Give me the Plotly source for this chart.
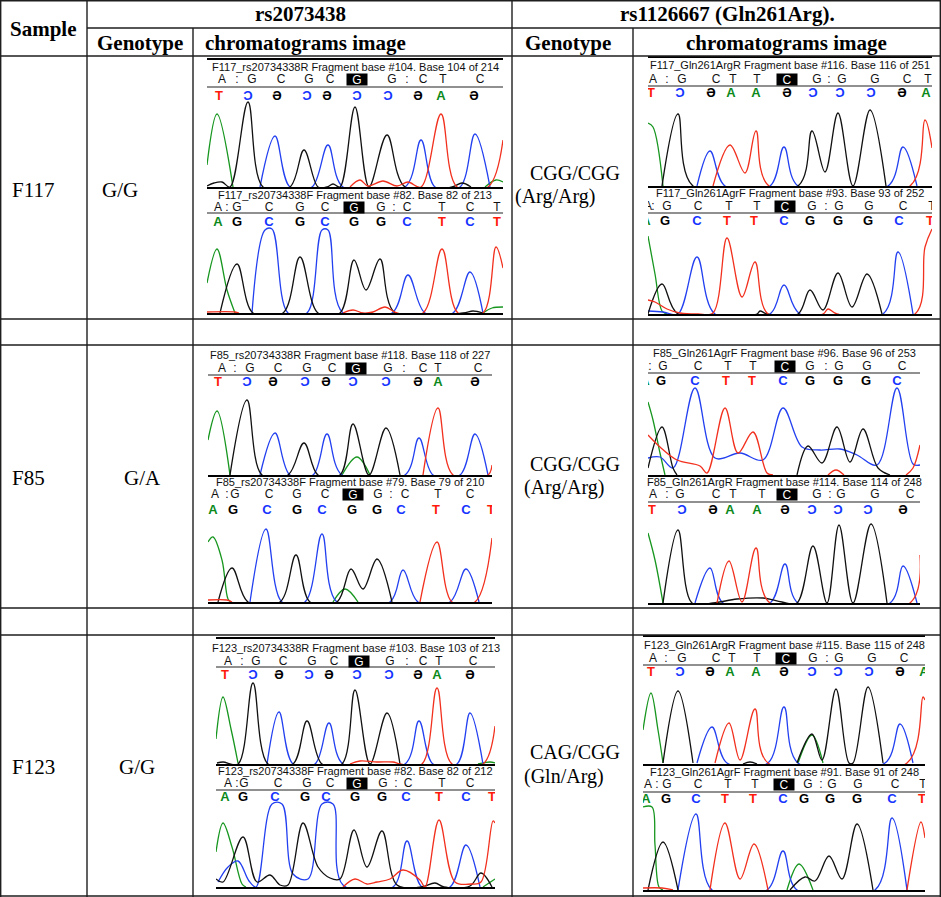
import plotly.graph_objects as go

W_PX, H_PX = 941, 897

# ---------------- table content ----------------
SAMPLES = ["F117", "F85", "F123"]
RS_GENOTYPE = ["G/G", "G/A", "G/G"]
GLN_CODON = ["CGG/CGG", "CGG/CGG", "CAG/CGG"]
GLN_AMINO = ["(Arg/Arg)", "(Arg/Arg)", "(Gln/Arg)"]

# ---------------- chromatogram data ----------------
# each channel: list of segments, each segment a list of (scan, signal) points
F117_RS_R = {
    "A": [[(0, 22), (10, 73), (26, 0)], [(278, 0), (289, 7), (296, 5)]],
    "C": [[(53, 0), (68, 51), (83, 0), (105, 0), (121, 42), (136, 0), (198, 0), (214, 47), (228, 0),
           (253, 0), (268, 53), (283, 0)]],
    "G": [[(0, 1), (7, 4), (15, 5), (23, 0), (41, 85), (56, 0), (83, 0), (97, 37), (111, 0), (120, 0),
           (126, 3), (133, 0), (148, 80), (162, 0), (180, 52), (198, 0), (245, 0), (255, 4), (264, 0)]],
    "T": [[(143, 0), (153, 7), (161, 1), (176, 6), (190, 1), (201, 5), (214, 0), (234, 73), (250, 0),
           (281, 0), (296, 47)]],
}
F117_RS_F = {
    "A": [[(0, 30), (10, 64), (20, 23), (28, 0)], [(276, 0), (285, 5), (296, 6)]],
    "C": [[(45, 0), (58, 83), (65, 84), (81, 0), (100, 0), (115, 83), (121, 83), (136, 0), (185, 0),
           (201, 38), (218, 0), (246, 0), (263, 41), (276, 0)]],
    "G": [[(13, 0), (30, 49), (46, 0), (76, 0), (93, 56), (111, 0), (133, 0), (147, 53), (159, 23),
           (173, 54), (188, 0), (256, 0), (266, 2), (276, 0)]],
    "T": [[(0, 1), (28, 1), (32, 0)], [(136, 0), (146, 3), (156, 0), (166, 1), (178, 6), (190, 0),
                                        (216, 0), (235, 64), (251, 0), (276, 0), (289, 66), (296, 45)]],
}
F117_GLN_R = {
    "A": [[(0, 63), (5, 59), (15, 0)]],
    "C": [[(49, 0), (62, 35), (77, 0), (122, 0), (136, 39), (150, 0), (240, 0), (255, 39), (269, 0)]],
    "G": [[(14, 0), (30, 72), (45, 0), (150, 0), (164, 55), (177, 14), (190, 73), (205, 0), (222, 76),
           (238, 0)]],
    "T": [[(65, 0), (82, 41), (97, 13), (108, 55), (121, 0), (262, 0), (277, 66), (284, 38)]],
}
F117_GLN_F = {
    "A": [[(0, 78), (7, 40), (14, 3), (19, 0)]],
    "C": [[(0, 3), (15, 2), (30, 0), (49, 57), (67, 0), (122, 0), (136, 29), (152, 0), (235, 0),
           (250, 62), (265, 0)]],
    "G": [[(0, 0), (14, 30), (30, 0), (109, 0), (112, 3), (119, 0), (150, 0), (162, 24), (175, 4),
           (190, 41), (204, 7), (219, 40), (234, 0)]],
    "T": [[(0, 14), (7, 12), (19, 5), (32, 1), (50, 0), (65, 1), (79, 76), (94, 17), (107, 52), (120, 0),
           (175, 0), (180, 5), (189, 0), (267, 0), (277, 67), (284, 85)]],
}
F85_RS_R = {
    "A": [[(0, 35), (9, 64), (22, 0)], [(134, 0), (149, 18), (162, 0)]],
    "C": [[(52, 0), (67, 42), (82, 0), (105, 0), (119, 41), (134, 0), (197, 0), (211, 37), (225, 0),
           (252, 0), (267, 41), (280, 0)]],
    "G": [[(22, 0), (39, 75), (54, 0), (80, 0), (96, 32), (110, 0), (132, 0), (145, 51), (161, 0),
           (178, 47), (192, 0)]],
    "T": [[(215, 0), (230, 67), (245, 0), (280, 0), (284, 10)]],
}
F85_RS_F = {
    "A": [[(0, 60), (5, 65), (14, 42), (20, 3), (23, 0)], [(125, 0), (137, 13), (150, 0)]],
    "C": [[(42, 0), (58, 73), (74, 0), (97, 0), (114, 68), (129, 0), (182, 0), (195, 32), (210, 0),
           (242, 0), (258, 33), (271, 0)]],
    "G": [[(10, 0), (24, 34), (40, 0), (72, 0), (88, 47), (102, 0), (129, 0), (143, 33), (155, 13),
           (169, 43), (184, 0)]],
    "T": [[(0, 2), (19, 2), (24, 0)], [(212, 0), (229, 60), (244, 0), (267, 0), (284, 64)]],
}
F85_GLN_F = {
    "A": [[(0, 73), (5, 55), (12, 22), (17, 0)]],
    "C": [[(0, 17), (12, 18), (25, 7), (47, 87), (67, 17), (92, 22), (115, 15), (135, 67), (154, 28),
           (172, 25), (192, 26), (209, 20), (229, 10), (249, 87), (265, 11), (272, 10)]],
    "G": [[(0, 7), (14, 48), (25, 7), (29, 0)], [(149, 0), (160, 29), (174, 12), (189, 48), (202, 13),
                                                  (215, 46), (230, 7), (242, 0)]],
    "T": [[(0, 40), (12, 28), (29, 15), (52, 9), (59, 2), (77, 67), (90, 22), (105, 43), (119, 2),
           (125, 0)], [(180, 0), (188, 5), (196, 0)], [(258, 0), (265, 7), (272, 30)]],
}
F85_GLN_R = {
    "A": [[(0, 70), (7, 43), (15, 0)]],
    "C": [[(47, 0), (62, 35), (75, 0), (122, 0), (137, 39), (150, 0), (242, 0), (255, 37), (269, 0)]],
    "G": [[(15, 0), (30, 73), (44, 0), (65, 0), (89, 4), (115, 5), (134, 1), (149, 0), (165, 57),
           (179, 0), (191, 78), (205, 0), (223, 79), (239, 0)]],
    "T": [[(69, 0), (81, 42), (94, 1), (108, 55), (122, 0), (262, 0), (272, 48)]],
}
F123_RS_R = {
    "A": [[(0, 25), (7, 67), (15, 35), (22, 1)], [(262, 0), (274, 2), (279, 1)]],
    "C": [[(51, 0), (63, 52), (77, 0), (99, 0), (113, 41), (127, 0), (189, 0), (203, 43), (217, 0),
           (241, 0), (254, 51), (267, 0)]],
    "G": [[(1, 1), (7, 2), (22, 0), (37, 81), (52, 0), (77, 0), (91, 43), (106, 0), (126, 0), (139, 74),
           (154, 0), (171, 51), (184, 0)]],
    "T": [[(134, 0), (144, 3), (161, 2), (177, 2), (184, 0), (206, 0), (221, 76), (236, 0), (267, 0),
           (279, 38)]],
}
F123_RS_F = {
    "A": [[(0, 35), (7, 64), (16, 40), (26, 3), (30, 0)], [(267, 0), (279, 8)]],
    "C": [[(2, 5), (12, 20), (22, 26), (33, 6), (40, 0), (56, 83), (66, 83), (77, 13), (92, 8),
           (106, 83), (117, 83), (127, 2), (177, 0), (191, 46), (206, 0), (234, 0), (250, 42), (264, 0)]],
    "G": [[(0, 8), (7, 5), (27, 50), (41, 5), (54, 12), (64, 2), (72, 2), (87, 64), (102, 20), (114, 9),
           (124, 8), (138, 57), (151, 20), (166, 56), (181, 2), (205, 0), (219, 4), (228, 0), (254, 1),
           (265, 14), (276, 0)]],
    "T": [[(127, 0), (139, 8), (151, 3), (161, 5), (174, 8), (187, 17), (204, 7), (209, 0), (223, 67),
           (239, 5), (255, 3), (265, 5), (277, 66), (279, 64)]],
}
F123_GLN_R = {
    "A": [[(0, 34), (8, 71), (15, 34), (20, 1)], [(155, 1), (169, 29), (180, 1)]],
    "C": [[(54, 1), (69, 37), (84, 1), (125, 1), (141, 57), (155, 1), (242, 1), (257, 40), (270, 1)]],
    "G": [[(20, 1), (35, 73), (50, 1)], [(100, 0), (107, 2), (114, 0)],
          [(154, 1), (169, 30), (179, 4), (193, 75), (206, 1), (210, 1), (225, 77), (240, 1)]],
    "T": [[(72, 1), (86, 41), (97, 4), (112, 55), (125, 1), (264, 1), (280, 67), (282, 64)]],
}
F123_GLN_F = {
    "A": [[(0, 83), (9, 83), (12, 45), (16, 3), (20, 0)], [(144, 0), (156, 26), (170, 0)]],
    "C": [[(35, 0), (53, 76), (69, 0), (124, 0), (140, 39), (154, 0), (232, 0), (249, 72), (264, 0)]],
    "G": [[(5, 0), (20, 48), (35, 0)], [(147, 0), (162, 13), (172, 9), (186, 34), (199, 11), (214, 66),
                                         (230, 0)]],
    "T": [[(0, 2), (19, 2), (30, 0)], [(67, 0), (82, 67), (97, 11), (111, 46), (125, 0)],
          [(264, 0), (278, 68), (282, 52)]],
}

# read names
TITLES = [
    "F117_rs20734338R Fragment base #104. Base 104 of 214",
    "F117_rs20734338F Fragment base #82. Base 82 of 213",
    "F117_Gln261ArgR Fragment base #116. Base 116 of 251",
    "F117_Gln261AgrF Fragment base #93. Base 93 of 252",
    "F85_rs20734338R Fragment base #118. Base 118 of 227",
    "F85_rs20734338F Fragment base #79. Base 79 of 210",
    "F85_Gln261AgrF Fragment base #96. Base 96 of 253",
    "F85_Gln261ArgR Fragment base #114. Base 114 of 248",
    "F123_rs20734338R Fragment base #103. Base 103 of 213",
    "F123_rs20734338F Fragment base #82. Base 82 of 212",
    "F123_Gln261ArgR Fragment base #115. Base 115 of 248",
    "F123_Gln261AgrF Fragment base #91. Base 91 of 248",
]

# reference base calls (black row) and their scan positions; 7th call is the SNP
CALLS = ["A:GCGCGG:CTC", "A:GCGCGG:CTCT", "A:GCTTCG:GGCT", "A:GCTTCG:GGCT",
         "A:GCGCGG:CTC", "A:GCGCGG:CTC", "A:GCTTCG:GGC", "A:GCTTCG:GGC",
         "A:GCGCGG:CTC", "A:GCGCGG:CTC", "A:GCTTCG:GGC", "A:GCTTCG:GGCT"]
CALL_POS = [
    [15, 30, 45, 74, 102, 123, 150, 185, 200, 216, 236, 273],
    [11, 20, 30, 62, 93, 118, 147, 174, 187, 200, 235, 263, 290],
    [5, 19, 34, 68, 85, 109, 139, 169, 181, 194, 227, 259, 280],
    [0, 5, 19, 50, 81, 109, 137, 164, 178, 191, 221, 255, 284],
    [14, 27, 42, 70, 99, 124, 148, 180, 196, 215, 230, 270],
    [7, 19, 27, 61, 89, 117, 145, 170, 183, 197, 230, 262],
    [-4, 2, 15, 50, 80, 105, 137, 162, 178, 191, 219, 254],
    [5, 19, 32, 68, 85, 114, 139, 169, 182, 193, 227, 262],
    [12, 26, 40, 67, 96, 118, 143, 174, 191, 207, 223, 257],
    [12, 21, 28, 62, 91, 114, 141, 167, 180, 192, 226, 254],
    [10, 23, 39, 73, 89, 114, 143, 170, 184, 196, 229, 261],
    [5, 14, 24, 55, 85, 112, 141, 165, 178, 189, 215, 252, 280],
]
# sample base calls (coloured row)
BASES = ["TCGCGCCGAG", "AGCGCGGCTCT", "TCGAAGCCCGA", "AGCTTCGGGCT",
         "TCGCGCCGAG", "AGCGCGGCTCT", "AGCTTCGGGC", "TCGAAGCCCG",
         "TCGCGCCGAG", "AGCGCGGCTCT", "TCGAAGCCCGA", "AGCTTCGGGCT"]
BASE_POS = [
    [12, 41, 70, 100, 120, 150, 181, 211, 234, 267],
    [11, 30, 62, 93, 118, 147, 174, 200, 235, 263, 290],
    [3, 32, 63, 83, 108, 139, 165, 192, 223, 254, 278],
    [-2, 17, 49, 79, 106, 136, 162, 190, 220, 251, 282],
    [10, 39, 65, 97, 118, 145, 178, 210, 230, 267],
    [5, 25, 59, 89, 114, 144, 169, 193, 228, 258, 283],
    [-3, 13, 47, 78, 104, 135, 162, 190, 218, 249],
    [4, 34, 65, 82, 109, 137, 164, 190, 220, 255],
    [9, 37, 63, 93, 113, 141, 173, 202, 221, 254],
    [9, 27, 59, 89, 110, 139, 166, 190, 223, 250, 276],
    [8, 37, 67, 87, 113, 141, 169, 195, 226, 257, 281],
    [3, 23, 53, 82, 110, 140, 161, 187, 214, 249, 279],
]
TRACES = [F117_RS_R, F117_RS_F, F117_GLN_R, F117_GLN_F, F85_RS_R, F85_RS_F,
          F85_GLN_F, F85_GLN_R, F123_RS_R, F123_RS_F, F123_GLN_R, F123_GLN_F]
REVERSE = [True, False, True, False, True, False, False, True, True, False, True, False]

# ---------------- layout (pixel geometry) ----------------
# x0, x1, top, baseline, title, calls, underline, coloured row, top rule
PANEL_BOX = [
    (207, 503, 60, 187, 120, 107, 100, 90, True),
    (207, 503, 188, 313, 118, 105, 100, 90, False),
    (648, 932, 58, 186, 121, 106, 100, 92, True),
    (648, 932, 187, 314, 121, 107, 101, 92, False),
    (208, 492, 347, 475, 120, 106, 100, 92, False),
    (208, 492, 476, 602, 120, 107, None, 91, False),
    (648, 920, 345, 475, 122, 108, 102, 93, False),
    (648, 920, 476, 603, 121, 108, 101, 92, False),
    (216, 495, 639, 764, 116, 102, 97, 88, True),
    (216, 495, 765, 887, 116, 103, 97, 89, False),
    (643, 925, 637, 764, 119, 105, 99, 91, True),
    (643, 925, 765, 890, 118, 105, 98, 90, False),
]

TRACE_COLOR = {"A": "#17961f", "C": "#2340f0", "G": "#111111", "T": "#f2301e"}
LETTER_COLOR = {"A": "#0b8a1a", "C": "#1534ff", "G": "#000000", "T": "#ff1a0a"}
MIRROR = {"C": "Ɔ", "G": "Ə"}

SERIF = "Liberation Serif, Times New Roman, serif"
SANS = "Liberation Sans, Arial, sans-serif"
BOLD_CALLS = "Liberation Sans, DejaVu Sans, sans-serif"


def px(xp):
    return xp / W_PX


def py(yp):
    return 1 - yp / H_PX


fig = go.Figure()
layout = {}
annotations = []
shapes = []

for i, box in enumerate(PANEL_BOX):
    x0, x1, top, base, t_h, c_h, u_h, b_h, top_rule = box
    n = i + 1
    xa, ya = ("x", "y") if n == 1 else (f"x{n}", f"y{n}")
    xk, yk = ("xaxis", "yaxis") if n == 1 else (f"xaxis{n}", f"yaxis{n}")
    width, height = x1 - x0, base - top
    layout[xk] = dict(domain=[px(x0), px(x1)], range=[0, width], anchor=ya, showline=True,
                      linewidth=2.4, linecolor="black", mirror=top_rule, showgrid=False,
                      zeroline=False, showticklabels=False, ticks="", fixedrange=True)
    layout[yk] = dict(domain=[py(base), py(top)], range=[0, height], anchor=xa, visible=False,
                      fixedrange=True)

    for ch in "ACGT":
        xs, ys = [], []
        for seg in TRACES[i][ch]:
            xs += [p[0] for p in seg] + [None]
            ys += [p[1] for p in seg] + [None]
        fig.add_trace(go.Scatter(x=xs, y=ys, mode="lines", xaxis=xa, yaxis=ya,
                                 line=dict(color=TRACE_COLOR[ch], width=1.3, shape="spline"),
                                 hoverinfo="skip", showlegend=False))

    # black reference call row, SNP call drawn boxed
    calls, cpos = CALLS[i], CALL_POS[i]
    keep = [k for k in range(len(calls)) if k != 6]
    fig.add_trace(go.Scatter(x=[cpos[k] for k in keep], y=[c_h] * len(keep), mode="text",
                             text=[calls[k] for k in keep], xaxis=xa, yaxis=ya,
                             textfont=dict(family=SANS, size=12, color="#111111"),
                             hoverinfo="skip", showlegend=False))
    annotations.append(dict(x=cpos[6], y=c_h + 0.5, xref=xa, yref=ya, text=calls[6], showarrow=False,
                            bgcolor="black", width=20, height=11, borderpad=0,
                            font=dict(family=SANS, size=12, color="white")))

    # coloured sample call row (mirrored glyphs on reverse reads)
    seq = BASES[i]
    glyphs = [MIRROR.get(b, b) if REVERSE[i] else b for b in seq]
    fig.add_trace(go.Scatter(x=BASE_POS[i], y=[b_h] * len(seq), mode="text", text=glyphs,
                             xaxis=xa, yaxis=ya,
                             textfont=dict(family=BOLD_CALLS, size=13, weight="bold",
                                           color=[LETTER_COLOR[b] for b in seq]),
                             hoverinfo="skip", showlegend=False))

    annotations.append(dict(x=0.5, y=t_h, xref=f"{xa} domain", yref=ya, text=TITLES[i],
                            showarrow=False, font=dict(family=SANS, size=11, color="#111111")))
    if u_h is not None:
        shapes.append(dict(type="line", xref=f"{xa} domain", yref=ya, x0=0, x1=1, y0=u_h, y1=u_h,
                           line=dict(color="#222222", width=1.2)))

# ---------------- table grid ----------------
GRID = "#1e1e1e"


def hline(y, xa_, xb_):
    shapes.append(dict(type="line", xref="paper", yref="paper", x0=px(xa_), x1=px(xb_),
                       y0=py(y), y1=py(y), line=dict(color=GRID, width=1.4)))


def vline(x, ya_, yb_):
    shapes.append(dict(type="line", xref="paper", yref="paper", x0=px(x), x1=px(x),
                       y0=py(ya_), y1=py(yb_), line=dict(color=GRID, width=1.4)))


hline(0.7, 0, 941)
hline(28, 87, 941)
for y in [56, 319, 345, 608, 635, 896]:
    hline(y, 0, 941)
vline(0.7, 0, 897)
vline(940.3, 0, 897)
vline(87, 0, 897)
vline(512, 0, 897)
vline(193, 28, 897)
vline(633, 28, 897)


def cell(text, x, y, anchor="center", bold=False, size=21):
    annotations.append(dict(x=px(x), y=py(y), xref="paper", yref="paper", showarrow=False,
                            xanchor=anchor, yanchor="middle",
                            text=f"<b>{text}</b>" if bold else text,
                            font=dict(family=SERIF, size=size, color="black")))


cell("Sample", 43, 29, bold=True)
cell("rs2073438", 300, 14, bold=True)
cell("rs1126667 (Gln261Arg).", 727, 14, bold=True)
cell("Genotype", 140, 43, bold=True)
cell("chromatograms image", 203, 43, anchor="left", bold=True)
cell("Genotype", 523, 43, anchor="left", bold=True)
cell("chromatograms image", 786, 43, bold=True)

ROW_Y = [190, 478, 767]
RS_GENO_X = [120, 142, 137]
CODON_Y = [173, 464, 752]
AMINO_Y = [196, 487, 776]
AMINO_X = [513, 522, 522]
for r in range(3):
    cell(SAMPLES[r], 10, ROW_Y[r], anchor="left")
    cell(RS_GENOTYPE[r], RS_GENO_X[r], ROW_Y[r])
    cell(GLN_CODON[r], 528, CODON_Y[r], anchor="left", size=20)
    cell(GLN_AMINO[r], AMINO_X[r], AMINO_Y[r], anchor="left", size=20)

fig.update_layout(**layout)
fig.update_layout(width=W_PX, height=H_PX, margin=dict(l=0, r=0, t=0, b=0),
                  paper_bgcolor="white", plot_bgcolor="white",
                  annotations=annotations, shapes=shapes, showlegend=False)

fig.write_html("out.html", config={"displayModeBar": False},
               post_script="document.body.style.margin='0';")
